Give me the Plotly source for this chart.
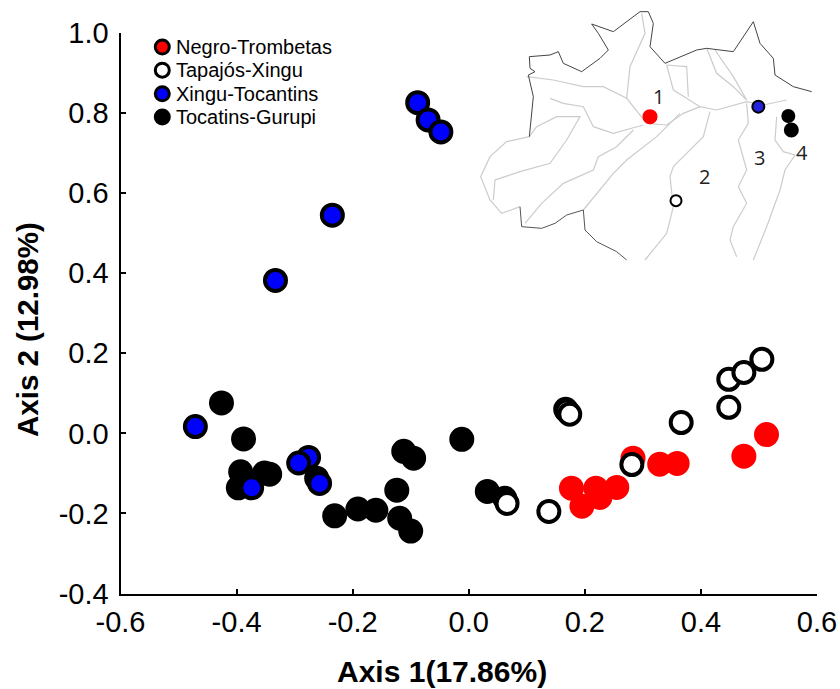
import plotly.graph_objects as go

# Main scatter values
negro_x = [0.177, 0.195, 0.219, 0.226, 0.255, 0.283, 0.329, 0.359, 0.474, 0.513]
negro_y = [-0.137, -0.182, -0.137, -0.160, -0.135, -0.062, -0.077, -0.075, -0.057, -0.003]
tapajos_x = [0.167, 0.169, 0.174, 0.448, 0.448, 0.474, 0.505, 0.366, 0.281, 0.066, 0.138]
tapajos_y = [0.060, 0.056, 0.048, 0.065, 0.135, 0.152, 0.185, 0.027, -0.078, -0.175, -0.195]
xingu_x = [-0.471, -0.333, -0.235, -0.088, -0.070, -0.048, -0.374, -0.276, -0.293, -0.257]
xingu_y = [0.017, 0.382, 0.545, 0.826, 0.783, 0.753, -0.136, -0.060, -0.074, -0.125]
gurupi_x = [-0.426, -0.388, -0.393, -0.397, -0.352, -0.343, -0.262, -0.231, -0.191, -0.160,
            -0.124, -0.119, -0.100, -0.112, -0.095, -0.012, 0.032, 0.062]
gurupi_y = [0.076, -0.014, -0.096, -0.136, -0.099, -0.102, -0.112, -0.206, -0.189, -0.192,
            -0.142, -0.212, -0.244, -0.045, -0.062, -0.015, -0.145, -0.162]

legend_names = ["Negro-Trombetas", "Tapajós-Xingu", "Xingu-Tocantins", "Tocatins-Gurupi"]
legend_x = [-0.528] * 4
legend_y = [0.965, 0.907, 0.848, 0.790]
face = ["#ff0000", "#ffffff", "#0000ff", "#000000"]

# Inset map traced in its own units
border_x = [150, 155, 215, 255, 290, 340, 345, 380, 440, 470]
border_y = [620, 680, 685, 670, 645, 630, 690, 725, 755, 780]
north_x = [178, 190, 175, 195, 180, 178, 240, 265, 280, 335, 390, 415, 385, 365, 430, 470, 510, 535, 550, 540,
           585, 680, 710, 790, 850, 870, 910, 915, 970, 1025]
north_y = [410, 290, 225, 215, 205, 170, 165, 155, 190, 215, 175, 150, 100, 72, 95, 65, 35, 35, 70, 140,
           190, 150, 145, 155, 65, 130, 175, 225, 260, 275]
rivers = [
    ([178, 110, 60, 32, 60, 95, 150], [410, 425, 470, 530, 600, 640, 620]),
    ([170, 250, 340, 400, 470, 530, 590, 640, 690, 740, 830, 880, 950],
     [230, 240, 260, 260, 295, 370, 375, 340, 320, 330, 305, 315, 300]),
    ([240, 280, 340, 370, 430, 520], [295, 310, 320, 380, 400, 375]),
    ([70, 75, 150, 240, 290, 330, 260, 200, 178], [600, 540, 515, 490, 420, 350, 350, 380, 410]),
    ([165, 215, 280, 370, 385, 440, 490], [670, 610, 550, 510, 470, 440, 390]),
    ([340, 430, 470, 560, 630], [630, 520, 480, 410, 340]),
    ([470, 480, 525, 515], [295, 200, 100, 40]),
    ([590, 610, 650, 690], [195, 270, 295, 320]),
    ([590, 650, 655], [195, 200, 290]),
    ([710, 740, 790, 830], [145, 220, 260, 300]),
    ([735, 790, 830], [150, 230, 300]),
    ([720, 700, 610, 600, 610, 590, 525], [335, 410, 500, 530, 620, 700, 780]),
    ([830, 835, 805, 830, 805, 830, 790, 780, 800], [310, 370, 420, 510, 560, 610, 680, 720, 770]),
    ([920, 915, 940, 975, 945, 930, 890, 850], [350, 420, 455, 465, 510, 570, 680, 780]),
]
site_x = [540, 618, 865, 955, 964]
site_y = [350, 602, 320, 348, 390]
site_face = ["#ff0000", "#ffffff", "#2222dd", "#000000", "#000000"]
site_line = ["#ff0000", "#000000", "#000000", "#000000", "#000000"]
site_size = [13, 11, 12, 12, 13]
map_label_x = [565, 703, 868, 996]
map_label_y = [290, 530, 472, 458]
map_labels = ["1", "2", "3", "4"]

x_ticks = [-0.6, -0.4, -0.2, 0.0, 0.2, 0.4, 0.6]
y_ticks = [-0.4, -0.2, 0.0, 0.2, 0.4, 0.6, 0.8, 1.0]

W, H = 840, 689

fig = go.Figure()
MS, LW = 21, 4


def series(x, y, name, col, line):
    fig.add_trace(go.Scatter(x=x, y=y, mode="markers", name=name, showlegend=False,
                             marker=dict(size=MS, color=col, line=dict(color=line, width=LW))))


series(negro_x, negro_y, legend_names[0], face[0], "#ff0000")
series(gurupi_x, gurupi_y, legend_names[3], face[3], "#000000")
series(tapajos_x, tapajos_y, legend_names[1], face[1], "#000000")
series(xingu_x, xingu_y, legend_names[2], face[2], "#000000")

fig.add_trace(go.Scatter(x=legend_x, y=legend_y, mode="markers", showlegend=False,
                         marker=dict(size=14, color=face, line=dict(color="#000000", width=3))))

for rx, ry in rivers:
    fig.add_trace(go.Scatter(x=rx, y=ry, xaxis="x2", yaxis="y2", mode="lines", showlegend=False,
                             line=dict(color="#cccccc", width=1.2)))
fig.add_trace(go.Scatter(x=border_x, y=border_y, xaxis="x2", yaxis="y2", mode="lines", showlegend=False,
                         line=dict(color="#555555", width=1)))
fig.add_trace(go.Scatter(x=north_x, y=north_y, xaxis="x2", yaxis="y2", mode="lines", showlegend=False,
                         line=dict(color="#444444", width=1)))
fig.add_trace(go.Scatter(x=site_x, y=site_y, xaxis="x2", yaxis="y2", mode="markers", showlegend=False,
                         marker=dict(size=site_size, color=site_face, opacity=1,
                                     line=dict(color=site_line, width=2))))

annotations = [
    dict(x=lx + 0.021, y=ly, xref="x", yref="y", text=n, showarrow=False, xanchor="left",
         font=dict(family="Liberation Sans", size=20, color="#000000"))
    for lx, ly, n in zip(legend_x, legend_y, legend_names)
]
annotations += [
    dict(x=lx, y=ly, xref="x2", yref="y2", text=t, showarrow=False,
         font=dict(family="Open Sans", size=20, color="#222222"))
    for lx, ly, t in zip(map_label_x, map_label_y, map_labels)
]
annotations += [
    dict(x=442 / W, y=1 - 671 / H, xref="paper", yref="paper", text="<b>Axis 1(17.86%)</b>",
         xanchor="center", yanchor="middle", showarrow=False,
         font=dict(family="Liberation Sans", size=30, color="#000000")),
    dict(x=28 / W, y=1 - 330 / H, xref="paper", yref="paper", text="<b>Axis 2 (12.98%)</b>",
         xanchor="center", yanchor="middle", showarrow=False, textangle=-90,
         font=dict(family="Liberation Sans", size=29.5, color="#000000")),
]

axis_style = dict(showgrid=False, zeroline=False, showline=True, linecolor="#000000", linewidth=2,
                  ticks="inside", ticklen=5, tickwidth=1.5, tickcolor="#000000", automargin=False,
                  tickfont=dict(family="Liberation Sans", size=29, color="#000000"))
fig.update_layout(
    width=W, height=H, autosize=False, paper_bgcolor="#ffffff", plot_bgcolor="rgba(0,0,0,0)",
    margin=dict(l=0, r=0, t=0, b=0), showlegend=False, annotations=annotations,
    xaxis=dict(domain=[120.5 / W, 817 / W], range=[-0.6, 0.6], tickvals=x_ticks, ticklabelstandoff=2,
               ticktext=[f"{v:.1f}" for v in x_ticks], **axis_style),
    yaxis=dict(domain=[1 - 593.5 / H, 1 - 33 / H], range=[-0.4, 1.0], tickvals=y_ticks, ticklabelstandoff=4,
               ticktext=[f"{v:.1f}" for v in y_ticks], **axis_style),
    xaxis2=dict(domain=[470 / W, 1], range=[0, 1110], visible=False, anchor="y2"),
    yaxis2=dict(domain=[1 - 270 / H, 1], range=[810, 0], visible=False, anchor="x2"),
)
fig.write_html("out.html", config={"displayModeBar": False},
               post_script="document.body.style.margin='0';document.documentElement.style.overflow='hidden';")
